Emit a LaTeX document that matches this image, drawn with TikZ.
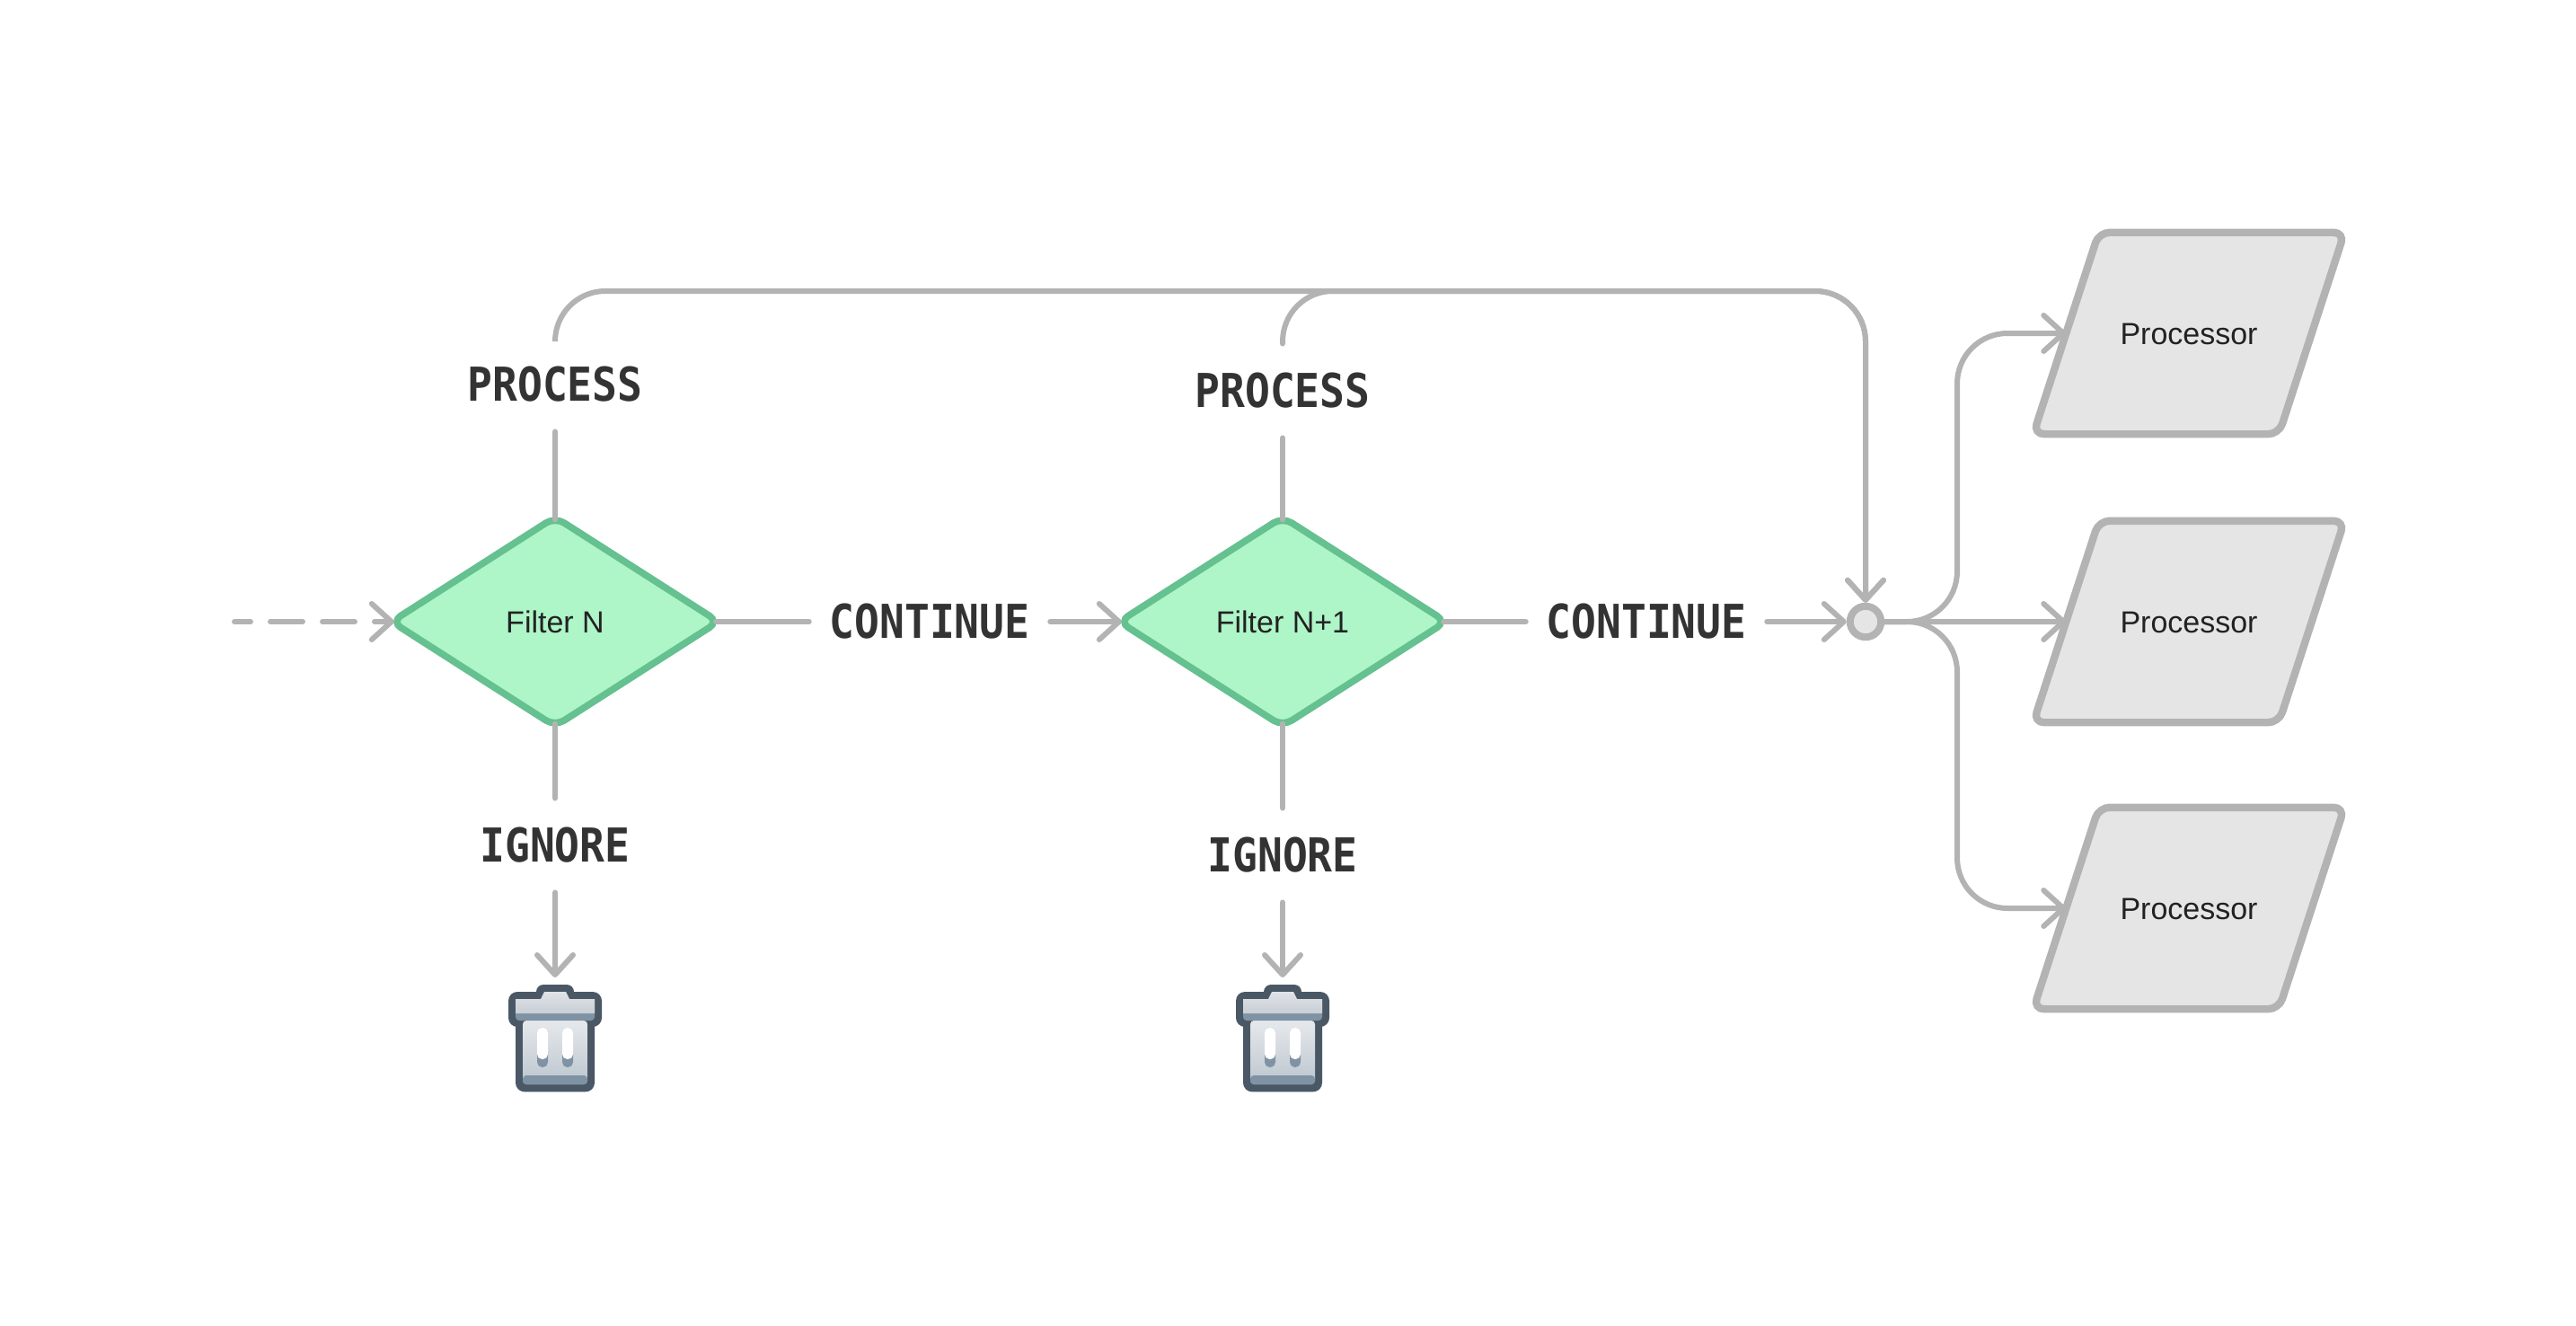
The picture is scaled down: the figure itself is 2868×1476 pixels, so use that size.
\documentclass[tikz,border=0pt]{standalone}
\usepackage{fontspec}
\setmainfont{Liberation Sans}
\newfontfamily\outcomefont[FakeStretch=0.89]{DejaVu Sans Mono}
\usetikzlibrary{shapes.geometric, arrows.meta}
\definecolor{wire}{RGB}{179,179,179}
\definecolor{binedge}{RGB}{74,88,102}
\definecolor{binband}{RGB}{127,147,165}
\tikzstyle{link} = [color=wire,line width=1.5pt,line cap=round]
\tikzstyle{arrow} = [link,-{Straight Barb[length=5.5pt,width=10pt,round]}]
\tikzstyle{filter} = [diamond,draw={rgb,255:red,101;green,193;blue,143},fill={rgb,255:red,174;green,245;blue,200},line width=1.9pt,rounded corners=3pt,minimum width=90.6pt,minimum height=57.8pt,inner sep=0pt,outer sep=-0.5pt,font=\fontsize{8.5pt}{10pt}\selectfont,text={rgb,255:red,34;green,34;blue,34}]
\tikzstyle{processor} = [trapezium,trapezium left angle=72,trapezium right angle=108,trapezium stretches body=true,draw=wire,fill={rgb,255:red,229;green,229;blue,229},line width=2.1pt,rounded corners=3pt,minimum width=86.6pt,text height=7.4pt,text depth=1.1pt,inner xsep=0pt,inner ysep=23.8pt,outer sep=0pt,font=\fontsize{8.5pt}{10pt}\selectfont,text={rgb,255:red,34;green,34;blue,34}]
\tikzstyle{outcome} = [font=\outcomefont\bfseries\fontsize{13pt}{15pt}\selectfont,text={rgb,255:red,51;green,51;blue,51},inner xsep=5.5pt,inner ysep=8pt]
\tikzset{
  pics/wastebin/.style={code={
    \fill [binedge,rounded corners=2.5pt] (-44,30) rectangle (44,119.3) ;
    \fill [binedge,rounded corners=2.5pt] (-52,8) rectangle (52,47) ;
    \fill [binedge,rounded corners=2pt] (-21,0) rectangle (21,16) ;
    \shade [top color={rgb,255:red,230;green,233;blue,236},bottom color={rgb,255:red,188;green,197;blue,206},rounded corners=1pt] (-36,40) rectangle (36,111) ;
    \fill [binband,rounded corners=1pt] (-36,101) rectangle (36,111) ;
    \fill [binband,rounded corners=1pt] (-44,16) rectangle (44,40) ;
    \shade [top color={rgb,255:red,224;green,227;blue,231},bottom color={rgb,255:red,200;green,206;blue,213}] (-12,8) -- (12,8) -- (16,16) -- (44,16) -- (44,32) -- (-44,32) -- (-44,16) -- (-16,16) -- cycle ;
    \foreach \slotx in {-14,14} {
      \fill [binband,rounded corners=1.4pt] (\slotx-6,70) rectangle (\slotx+6,92) ;
      \fill [white,rounded corners=1.4pt] (\slotx-6,48) rectangle (\slotx+6,83) ;
    }
  }}
}

\begin{document}
\begin{tikzpicture}[x=0.25pt,y=0.25pt,yscale=-1,xscale=1]
\useasboundingbox (0,0) rectangle (2868,1476);

%Shape: Diamond
\node [filter] (filterN) at (618,692) {Filter N};
\node [filter] (filterNext) at (1428,692) {Filter N+1};
%Shape: Parallelogram
\node [processor] (procA) at (2437,371) {Processor};
\node [processor] (procB) at (2437,692) {Processor};
\node [processor] (procC) at (2437,1011) {Processor};
%Shape: Circle
\node [circle,draw=wire,fill={rgb,255:red,229;green,229;blue,229},line width=2pt,minimum size=8.6pt,inner sep=0pt,outer sep=1pt] (merge) at (2077,692) {};
%Shape: Bins
\node [minimum width=26pt,minimum height=30pt,inner sep=0pt,outer sep=2pt] (binN) at (618,1156) {};
\node [minimum width=26pt,minimum height=30pt,inner sep=0pt,outer sep=2pt] (binNext) at (1428,1156) {};
\pic [transform shape] at (618,1096) {wastebin};
\pic [transform shape] at (1428,1096) {wastebin};

% Text Node
\node [outcome] (processN) at (618,428) {PROCESS};
\node [outcome] (processNext) at (1428,435) {PROCESS};
\node [outcome] (continueN) at (1035,692) {CONTINUE};
\node [outcome] (continueNext) at (1833,692) {CONTINUE};
\node [outcome] (ignoreN) at (618,941) {IGNORE};
\node [outcome] (ignoreNext) at (1428,952) {IGNORE};

\coordinate (feed) at (261,692);
\coordinate (topbend) at (2077,324);
\coordinate (busA) at (2179,371);
\coordinate (busC) at (2179,1011);

%Straight Lines
\draw [arrow,dash pattern={on 9pt off 5.5pt},dash phase=4.5pt] (feed) -- (filterN.west) ;
\draw [link] (filterN.north) -- (processN.south) ;
\draw [link] (filterNext.north) -- (processNext.south) ;
\draw [link] (filterN.east) -- (continueN.west) ;
\draw [link] (filterNext.east) -- (continueNext.west) ;
\draw [link] (filterN.south) -- (ignoreN.north) ;
\draw [link] (filterNext.south) -- (ignoreNext.north) ;
\draw [arrow] (continueN.east) -- (filterNext.west) ;
\draw [arrow] (continueNext.east) -- (merge.west) ;
\draw [arrow] (ignoreN.south) -- (binN.north) ;
\draw [arrow] (ignoreNext.south) -- (binNext.north) ;
\draw [arrow] (merge.east) -- (procB.west) ;
%Bent Lines
\draw [arrow,rounded corners=14pt] (processN.north) |- (topbend) -- (merge.north) ;
\draw [arrow,rounded corners=14pt] (processNext.north) |- (topbend) -- (merge.north) ;
\draw [arrow,rounded corners=14pt] (merge.east) -| (busA) -- (procA.west) ;
\draw [arrow,rounded corners=14pt] (merge.east) -| (busC) -- (procC.west) ;

\end{tikzpicture}
\end{document}
